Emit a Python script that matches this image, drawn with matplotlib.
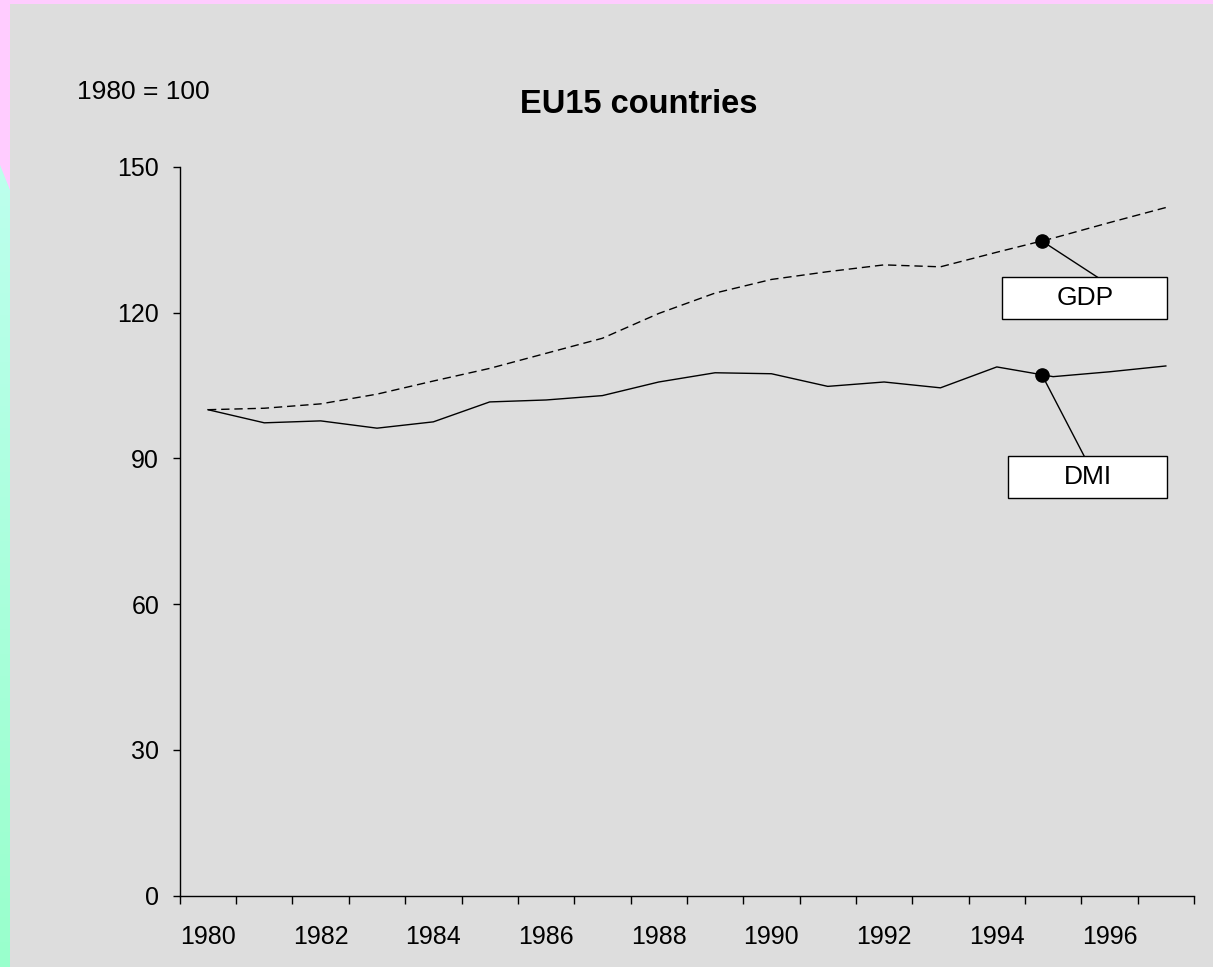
import numpy as np
import matplotlib
matplotlib.use("Agg")
import matplotlib.pyplot as plt
from matplotlib.patches import Rectangle, Polygon

plt.rcParams['font.family'] = ['Liberation Sans', 'DejaVu Sans']

# index values, 1980 = 100
years = list(range(1980, 1998))
gdp = [100.0, 100.3, 101.2, 103.2, 105.9, 108.5, 111.6, 114.7, 119.8,
       124.0, 126.8, 128.4, 129.8, 129.4, 132.4, 135.3, 138.5, 141.6]
dmi = [100.0, 97.3, 97.7, 96.2, 97.5, 101.6, 102.0, 102.9, 105.7,
       107.6, 107.4, 104.8, 105.7, 104.5, 108.8, 106.8, 107.8, 109.0]
labels = ["GDP", "DMI"]
y_ticks = [0, 30, 60, 90, 120, 150]

W, H = 1213, 967
fig = plt.figure(figsize=(W / 100, H / 100), dpi=100, facecolor="#FFCCFF")

# slide background: gray panel, mint strip on the left with pink corner
bg = fig.add_axes([0, 0, 1, 1], zorder=-1)
bg.set_xlim(0, W)
bg.set_ylim(H, 0)
bg.axis("off")
bg.add_patch(Rectangle((10, 4), W - 10, H - 4, color="#DDDDDD", lw=0))
grad = np.linspace(0, 1, 256)[:, None]
top_c = np.array([0.74, 1.0, 0.93])
bot_c = np.array([0.60, 1.0, 0.80])
img = (top_c * (1 - grad) + bot_c * grad)[:, None, :]
bg.imshow(img, extent=[0, 10, H, 165], aspect="auto", zorder=1)
bg.add_patch(Polygon([(0, 165), (10, 165), (10, 190)], closed=True,
                     color="#FFCCFF", lw=0, zorder=2))

ax = fig.add_axes([179.8 / W, 1 - 895.7 / H, (1194 - 179.8) / W, (895.7 - 166.7) / H])
ax.set_facecolor("none")

x = np.arange(len(years))
ax.plot(x, gdp, color="black", lw=1.0, dashes=(6, 3.5))
ax.plot(x, dmi, color="black", lw=1.0)

ax.set_xlim(-0.5, len(years) - 0.5)
ax.set_ylim(0, 150)
for s in ["top", "right"]:
    ax.spines[s].set_visible(False)
for s in ["left", "bottom"]:
    ax.spines[s].set_linewidth(1.0)

ax.set_yticks(y_ticks)
ax.tick_params(axis="y", direction="out", length=5.4, width=1, pad=9.4, labelsize=18)
# category axis: tick marks between years, labels on every second year
ax.set_xticks(np.arange(-0.5, len(years)), labels=[])
ax.tick_params(axis="x", which="major", direction="out", length=5.4, width=1)
ax.set_xticks(x[::2], labels=[str(y) for y in years[::2]], minor=True)
ax.tick_params(axis="x", which="minor", length=0, pad=21, labelsize=18)

# callouts
xm = 14.8
boxes = {"GDP": ((14.10, 118.66), 2.92, 8.58, (15.79, 127.24), gdp),
         "DMI": ((14.20, 81.77), 2.82, 8.70, (15.55, 90.47), dmi)}
for name in labels:
    (bx, by), bw, bh, end, series = boxes[name]
    ym = np.interp(xm, x, series)
    ax.plot([xm, end[0]], [ym, end[1]], color="black", lw=1.0)
    ax.plot([xm], [ym], "o", color="black", ms=9.5)
    ax.add_patch(Rectangle((bx, by), bw, bh, facecolor="white",
                           edgecolor="black", lw=1.0, zorder=3))
    ax.text(bx + bw / 2, by + bh / 2, name, ha="center", va="center",
            fontsize=19, zorder=4)

fig.text(639 / W, 1 - 113 / H, "EU15 countries", ha="center", va="baseline",
         fontsize=23.5, fontweight="bold")
fig.text(77.3 / W, 1 - 98.7 / H, "1980 = 100", ha="left", va="baseline", fontsize=19)

fig.savefig("out.png", dpi=100, facecolor=fig.get_facecolor())
